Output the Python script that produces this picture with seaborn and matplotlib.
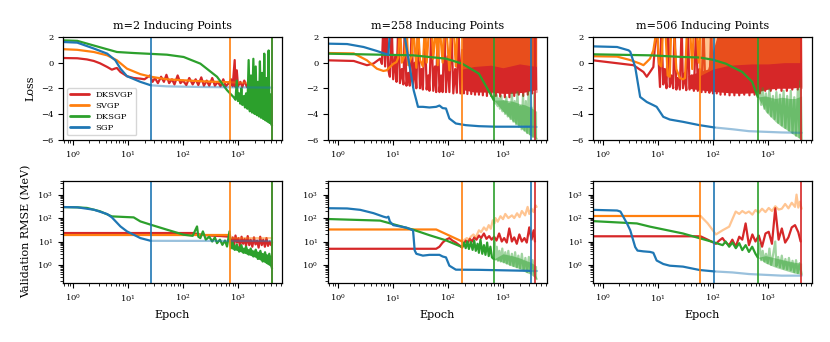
import numpy as np
import pandas as pd
import matplotlib
matplotlib.use("Agg")
import matplotlib.pyplot as plt
import seaborn as sns
from matplotlib.lines import Line2D

# ---------------- labels ----------------
methods = ["DKSVGP", "SVGP", "DKSGP", "SGP"]
colors = ["#d62728", "#ff7f0e", "#2ca02c", "#1f77b4"]
titles = ["m=2 Inducing Points", "m=258 Inducing Points", "m=506 Inducing Points"]

# best epochs (vertical lines) per panel: DKSVGP, SVGP, DKSGP, SGP
best_m2 = [4150, 705, 4150, 26]
best_m258 = [3810, 181, 680, 3190]
best_m506 = [3917, 59.2, 652, 106]

# ================= m=2 : Loss =================
m2_loss_dksvgp_ep = [0.66, 1.2, 1.8, 2.4, 3.1, 4.2, 5.1, 5.9, 6.3, 7.3, 9.6, 12.7, 16.8, 20, 25, 28, 31, 35, 40, 45, 50, 56, 63, 70, 80, 90, 100, 115, 130, 150, 170, 190, 215, 240, 270, 300, 340, 380, 430, 480, 540, 600, 680, 750, 800, 870, 900, 950, 1000, 1100, 1200, 1300, 1450, 1600]
m2_loss_dksvgp = [0.36, 0.34, 0.25, 0.13, -0.05, -0.34, -0.55, -0.45, -0.42, -0.73, -1.06, -1.2, -1.25, -1.3, -1.0, -1.5, -1.2, -1.6, -1.1, -1.5, -0.95, -1.6, -1.3, -1.7, -1.0, -1.6, -1.4, -1.75, -1.2, -1.7, -1.3, -1.75, -1.15, -1.8, -1.4, -1.8, -1.2, -1.8, -1.5, -1.85, -1.3, -1.85, -1.6, -1.3, -1.85, 0.2, -1.9, -0.6, -1.85, -1.5, -1.9, -1.4, -1.9, -1.6]
m2_loss_svgp_ep = [0.66, 1.2, 2.4, 4.2, 6.3, 9.6, 16.8, 26, 51, 103, 207, 415, 705, 1000, 1600]
m2_loss_svgp = [1.05, 1.0, 0.83, 0.57, 0.18, -0.47, -0.9, -1.1, -1.3, -1.38, -1.45, -1.5, -1.53, -1.56, -1.58]
m2_loss_dksgp_ep = [0.66, 1.2, 3.1, 6.3, 12.7, 51, 103, 207, 415, 631, 834, 900, 950, 1000, 1050, 1100, 1150, 1200, 1270, 1340, 1400, 1480, 1560, 1640, 1720, 1800, 1900, 2000, 2100, 2200, 2300, 2400, 2500, 2620, 2750, 2880, 3000, 3150, 3300, 3450, 3600, 3750, 3900, 4050, 4150]
m2_loss_dksgp = [1.74, 1.7, 1.2, 0.83, 0.75, 0.62, 0.44, -0.08, -1.1, -2.15, -2.7, -2.9, -1.4, -3.0, -2.4, -3.2, -2.0, -3.3, -2.9, -3.5, -2.4, -3.6, 0.2, -3.8, -1.0, -3.9, 0.3, -4.0, -0.3, -4.1, -1.5, -4.2, 0.1, -4.3, -0.8, -4.4, 0.7, -4.5, -1.2, -4.6, 0.95, -4.7, -2.5, -4.85, -4.9]
m2_loss_dksgp_band_ep = [1000, 1500, 2000, 2600, 3300, 4150]
m2_loss_dksgp_band_lo = [-3.0, -3.6, -4.0, -4.3, -4.6, -4.9]
m2_loss_dksgp_band_hi = [-2.6, -2.4, -2.2, -2.0, -2.0, -2.6]
m2_loss_sgp_ep = [0.66, 1.2, 2.4, 4.2, 5.9, 7.3, 9.6, 16.8, 26, 51, 207, 1000, 4150]
m2_loss_sgp = [1.61, 1.56, 1.1, 0.7, 0.18, -0.47, -1.06, -1.5, -1.77, -1.85, -1.9, -1.93, -1.95]

# ================= m=2 : RMSE =================
m2_rmse_dksvgp_ep = [0.66, 150, 200, 300, 500, 700, 750, 800, 850, 900, 960, 1020, 1090, 1160, 1240, 1320, 1400, 1500, 1600, 1700, 1820, 1950, 2080, 2220, 2370, 2530, 2700, 2880, 3080, 3290, 3510, 3750, 4000, 4150]
m2_rmse_dksvgp = [23, 23, 20, 18, 17, 16, 8, 15, 7, 18, 9, 14, 6, 16, 8, 13, 6.5, 17, 7, 12, 6, 15, 7.5, 11, 5.5, 16, 7, 12, 6, 14, 6.5, 10, 7, 9]
m2_rmse_svgp_ep = [0.66, 705, 760, 4150]
m2_rmse_svgp = [19.5, 19.5, 14, 14]
m2_rmse_dksgp_ep = [0.66, 1.2, 1.8, 3.1, 5.1, 9.6, 12.7, 16.8, 26, 51, 103, 150, 180, 190, 207, 230, 260, 300, 340, 380, 415, 470, 520, 580, 631, 700, 740, 800, 870, 950, 1050, 1150, 1250, 1400, 1550, 1700, 1900, 2100, 2300, 2550, 2800, 3100, 3400, 3700, 4000, 4150]
m2_rmse_dksgp = [295, 287, 270, 195, 118, 110, 107, 72, 52, 32, 19.5, 17.5, 44, 16, 14, 27, 12, 16, 10, 15, 8.5, 12, 7.2, 11, 6.1, 27, 5.2, 9, 4.4, 7.5, 3.7, 7, 3.3, 6, 2.8, 5, 2.3, 4.5, 1.8, 4, 1.4, 3.5, 1.2, 3, 1.0, 0.7]
m2_rmse_dksgp_band_ep = [740, 1000, 1500, 2000, 3000, 4150]
m2_rmse_dksgp_band_lo = [5, 4, 2.8, 2.2, 1.3, 0.8]
m2_rmse_dksgp_band_hi = [8, 6.5, 5, 4.2, 3.2, 2.5]
m2_rmse_sgp_ep = [0.66, 1.2, 2.4, 4.2, 5.1, 7.3, 9.6, 12.7, 16.8, 26, 4150]
m2_rmse_sgp = [295, 287, 227, 148, 107, 44, 27, 19.5, 14, 10.7, 10.5]

# ================= m=258 : Loss =================
m258_loss_dksvgp_ep = [0.66, 1.94, 3.37, 4.43, 5.84, 6.3, 6.7, 7.2, 7.7, 8.25, 8.8, 9.5, 10.1, 11, 11.6, 12.5, 13.4, 14.5, 15.5, 16.4, 17.6, 19, 20.2, 22, 23.2, 25, 26.6, 28.5, 31, 33, 35, 38, 41, 44, 46, 50, 54, 58, 61, 65, 70, 75, 80, 86, 92, 99, 106, 115, 125, 135, 145, 155, 168, 181, 195, 210, 225, 245, 265, 285, 310, 335, 365, 395, 430, 470, 510, 560, 610, 680, 740, 810, 890, 980, 1080, 1190, 1310, 1450, 1600, 1750, 1930, 2120, 2330, 2560, 2820, 3100, 3400, 3810, 4080]
m258_loss_dksvgp = [0.18, 0.13, -0.2, -0.07, 0.31, -0.1, 3, -0.3, 3, -0.6, -1.1, 3, -1.3, 0.5, -1.5, 3, -1.6, -0.5, -1.7, 3, -1.8, -0.8, -1.8, 3, -1.9, 0.0, -2.0, 3, -2.0, -0.5, -2.1, 3, -2.1, -1.0, -2.2, 3, -2.2, -0.3, -2.3, 3, -2.3, -1.0, -2.3, 3, -2.3, 0.5, -2.3, 3, -2.4, -0.5, -2.35, 3, -2.4, 1.0, -2.4, 3, -2.45, 3, -2.45, 0.5, -2.5, 3, -2.5, 3, -2.55, 1.5, -2.6, 3, -2.6, 3, -2.6, 3, -2.65, 3, -2.7, 3, -2.7, 3, -2.6, 3, -2.5, 3, -2.6, 3, -2.5, 3, -2.4, 3, -2.3]
m258_loss_dksvgp_band_ep = [181, 300, 600, 1000, 1500, 2500, 4080]
m258_loss_dksvgp_band_lo = [-2.1, -2.3, -2.3, -2.4, -2.4, -2.3, -2.1]
m258_loss_dksvgp_band_hi = [3, 3, 3, 3, 3, 3, 3]
m258_loss_svgp_ep = [0.66, 1.94, 3.37, 5.09, 6.7, 7.7, 8.8, 10.1, 11.6, 12.5, 13.4, 14.5, 16.4, 17.6, 19, 22, 23.2, 26.6, 28.5, 31, 35, 38, 41, 46, 50, 54, 61, 65, 70, 80, 86, 92, 106, 115, 125, 139, 150, 165, 181]
m258_loss_svgp = [0.75, 0.72, 0.18, -0.47, -0.65, -0.6, -0.35, -0.1, 0.05, 0.4, 3, 0.0, 0.6, 3, -0.2, 0.5, 3, -0.4, 3, 0.2, -0.3, 3, 0.0, 3, 3, 0.3, 3, -0.2, 3, 0.0, 3, 3, -0.6, 3, 3, -0.3, 3, 3, 3]
m258_loss_svgp_band_ep = [181, 300, 600, 1000, 2000, 4080]
m258_loss_svgp_band_lo = [-0.5, -0.3, -0.2, -0.4, -0.1, -0.3]
m258_loss_svgp_band_hi = [3, 3, 3, 3, 3, 3]
m258_loss_dksgp_ep = [0.66, 5.84, 23.2, 46, 92, 181, 365, 600, 680, 700, 730, 760, 800, 840, 880, 930, 980, 1030, 1090, 1150, 1220, 1290, 1370, 1450, 1540, 1630, 1730, 1830, 1940, 2060, 2180, 2310, 2450, 2600, 2750, 2920, 3100, 3280, 3480, 3700, 3900, 4080]
m258_loss_dksgp = [0.7, 0.62, 0.57, 0.44, 0.31, -0.08, -0.86, -2.5, -2.93, -2.6, -3.2, -2.5, -3.4, -2.8, -3.6, -2.6, -3.8, -3.0, -4.0, -2.7, -4.2, -3.2, -4.4, -2.4, -4.6, -3.0, -4.8, -2.3, -5.0, -3.4, -5.2, -2.5, -5.3, -3.0, -5.5, -2.3, -5.6, -3.5, -5.8, -2.4, -5.9, -5.95]
m258_loss_dksgp_band_ep = [680, 1000, 1450, 2000, 2520, 3190, 4080]
m258_loss_dksgp_band_lo = [-2.93, -3.8, -4.5, -5.0, -5.4, -5.7, -5.95]
m258_loss_dksgp_band_hi = [-2.93, -2.9, -3.0, -3.2, -3.3, -3.5, -3.8]
m258_loss_sgp_ep = [0.66, 1.47, 2.93, 5.09, 7.7, 8.25, 9.0, 15, 16.4, 20.2, 23.8, 26.6, 28.5, 35, 46, 61, 70, 80, 92, 106, 139, 210, 365, 728, 1452, 3190, 4080]
m258_loss_sgp = [1.48, 1.45, 1.22, 0.91, 0.65, 0.6, 3, 3, 2.0, -0.34, -2.16, -2.94, -3.45, -3.45, -3.5, -3.45, -3.35, -3.55, -3.58, -4.36, -4.75, -4.88, -4.96, -5.0, -5.0, -5.0, -5.02]

# ================= m=258 : RMSE =================
m258_rmse_dksvgp_ep = [0.66, 61, 70, 80, 92, 106, 120, 139, 160, 181, 195, 210, 230, 250, 275, 300, 330, 365, 400, 450, 500, 560, 620, 690, 760, 850, 950, 1050, 1170, 1300, 1450, 1600, 1780, 1980, 2200, 2450, 2700, 3000, 3300, 3600, 3810]
m258_rmse_dksvgp = [4.9, 4.9, 6, 9, 12, 14, 11, 9, 7, 5.5, 8, 11, 9, 13, 10, 15, 12, 18, 14, 22, 13, 17, 12, 16, 11, 22, 10, 14, 9, 36, 10, 15, 8, 20, 10, 14, 9, 40, 12, 30, 10]
m258_rmse_svgp_ep = [0.66, 61, 181, 200, 220, 240, 260, 290, 320, 365, 400, 450, 500, 550, 600, 650, 700, 728, 800, 900, 1000, 1100, 1250, 1452, 1600, 1800, 2000, 2200, 2520, 2800, 3000, 3300, 3600, 3900, 4080]
m258_rmse_svgp = [32.6, 32.6, 10, 12, 14, 12, 16, 20, 15, 30, 25, 40, 30, 50, 35, 80, 60, 100, 70, 120, 90, 150, 100, 130, 100, 160, 110, 200, 130, 300, 150, 250, 180, 350, 300]
m258_rmse_dksgp_ep = [0.66, 5.84, 23.2, 46, 92, 181, 195, 210, 225, 240, 260, 280, 300, 320, 345, 365, 390, 420, 450, 480, 515, 550, 590, 630, 680, 700, 730, 770, 810, 860, 910, 970, 1030, 1100, 1170, 1250, 1340, 1450, 1550, 1660, 1780, 1900, 2040, 2200, 2370, 2550, 2750, 2950, 3190, 3450, 3750, 4080]
m258_rmse_dksgp = [91, 78, 32, 18.6, 11.2, 5.8, 9, 5.2, 10, 4.8, 9.5, 4.4, 11, 4.0, 8, 3.3, 12, 3.0, 7, 2.7, 9, 2.4, 6, 2.1, 1.8, 10, 1.7, 6, 1.5, 4, 1.4, 5, 1.3, 3.5, 1.15, 4, 1.0, 3, 0.9, 3.5, 0.8, 2.5, 0.7, 3, 0.6, 2, 0.5, 2.2, 0.45, 1.6, 0.35, 0.25]
m258_rmse_dksgp_band_ep = [680, 1000, 1450, 2000, 2520, 3190, 4080]
m258_rmse_dksgp_band_lo = [1.8, 1.3, 0.9, 0.7, 0.5, 0.4, 0.25]
m258_rmse_dksgp_band_hi = [1.8, 3.0, 2.5, 2.0, 1.6, 1.3, 0.9]
m258_rmse_sgp_ep = [0.66, 1.47, 2.55, 4.43, 6.7, 7.7, 8.25, 8.8, 10.1, 17.6, 23.2, 24.8, 26.6, 35, 46, 70, 80, 92, 106, 139, 365, 3190, 4080]
m258_rmse_sgp = [263, 257, 224, 162, 115, 105, 115, 71, 50, 39, 30, 4.2, 3.0, 2.5, 2.7, 2.7, 2.3, 2.1, 0.93, 0.63, 0.62, 0.56, 0.56]

# ================= m=506 : Loss =================
m506_loss_dksvgp_ep = [0.66, 3.6, 5.45, 6.26, 7.18, 8.25, 9.47, 10.9, 11.5, 12.5, 13.3, 14.3, 15.3, 16.4, 17.5, 18.9, 20, 21.6, 23, 25, 27, 28.5, 31, 32.7, 35, 37.6, 41, 45, 49.5, 53, 57, 62, 67, 73, 80, 86, 93, 100, 108, 117, 127, 137, 150, 165, 180, 200, 220, 245, 270, 300, 335, 370, 410, 460, 510, 570, 640, 710, 800, 890, 1000, 1120, 1250, 1400, 1570, 1760, 1970, 2200, 2470, 2760, 3100, 3470, 3917, 4080]
m506_loss_dksvgp = [0.18, -0.2, -0.73, -1.1, -0.73, -0.34, 3, -1.9, 3, -1.7, -0.5, -2.0, 3, -1.9, -1.0, -2.0, 3, -2.1, -1.2, -2.1, 3, -2.0, -0.8, -2.15, 3, -2.1, -1.0, -2.2, 3, -2.2, -0.5, -2.3, 3, -2.3, -1.0, -2.35, 3, -2.4, 0.0, -2.4, 3, -2.5, 3, -2.5, 3, -2.55, 3, -2.55, 3, -2.55, 3, -2.5, 3, -2.55, 3, -2.5, 3, -2.4, 3, -2.2, 3, -2.2, 3, -2.1, 3, -2.2, 3, -2.2, 3, -2.1, 3, -2.1, 3, -2.0]
m506_loss_dksvgp_band_ep = [35, 80, 137, 300, 600, 900, 1500, 2500, 4080]
m506_loss_dksvgp_band_lo = [-2.0, -2.2, -2.3, -2.4, -2.35, -2.1, -2.0, -2.0, -1.9]
m506_loss_dksvgp_band_hi = [-1.0, -0.5, 3, 3, 3, 3, 3, 3, 3]
m506_loss_svgp_ep = [0.66, 1.81, 3.14, 4.75, 5.45, 6.26, 7.18, 8.25, 9.0, 9.5, 10.5, 11.5, 12.5, 13.5, 15, 16.4, 17.5, 19, 21.6, 25, 28.5, 31, 34, 38, 42, 45, 50, 55, 59.2]
m506_loss_svgp = [0.5, 0.47, 0.2, -0.08, -0.2, 0.05, 0.31, 0.96, 2.0, 3, -0.1, -0.3, 3, 3, -1.0, -1.1, 3, 3, -0.5, -1.2, -1.3, -1.2, 3, 3, -0.5, 3, 3, 0.0, 3]
m506_loss_svgp_band_ep = [59.2, 100, 200, 500, 1000, 2000, 4080]
m506_loss_svgp_band_lo = [-1.0, -0.5, -0.2, -0.1, -0.1, 0.0, 0.0]
m506_loss_svgp_band_hi = [3, 3, 3, 3, 3, 3, 3]
m506_loss_dksgp_ep = [0.66, 7.18, 28.5, 56.8, 98.6, 171, 341, 516, 652, 700, 750, 800, 860, 920, 990, 1060, 1140, 1230, 1320, 1420, 1530, 1650, 1780, 1920, 2070, 2230, 2400, 2590, 2790, 3000, 3230, 3480, 3750, 3917, 4080]
m506_loss_dksgp = [0.65, 0.57, 0.44, 0.4, 0.23, -0.08, -0.73, -1.5, -2.68, -2.2, -3.3, -2.0, -3.6, -2.4, -3.9, -2.1, -4.2, -2.6, -4.4, -2.3, -4.7, -2.5, -4.9, -2.2, -5.1, -2.6, -5.3, -2.2, -5.5, -2.7, -5.7, -2.1, -5.85, -1.4, -6.0]
m506_loss_dksgp_band_ep = [652, 896, 1355, 1783, 2500, 3097, 4080]
m506_loss_dksgp_band_lo = [-2.68, -3.8, -4.6, -5.0, -5.4, -5.7, -6.0]
m506_loss_dksgp_band_hi = [-2.68, -2.6, -2.8, -2.7, -2.8, -2.8, -2.6]
m506_loss_sgp_ep = [0.66, 1.81, 2.93, 3.14, 3.86, 4.75, 6.26, 8.25, 9.47, 12.5, 16.4, 28.5, 56.8, 106, 226, 450, 1783, 4080]
m506_loss_sgp = [1.27, 1.22, 0.96, 0.85, -0.34, -2.68, -3.07, -3.32, -3.45, -4.23, -4.44, -4.62, -4.88, -5.06, -5.2, -5.35, -5.45, -5.48]

# ================= m=506 : RMSE =================
m506_rmse_dksvgp_ep = [0.66, 59.2, 80, 113, 130, 149, 170, 197, 225, 259, 300, 341, 392, 450, 520, 592, 680, 780, 900, 1030, 1180, 1355, 1560, 1783, 2050, 2350, 2700, 3097, 3550, 3917]
m506_rmse_dksvgp = [16.7, 16.7, 12, 8, 11, 14, 9, 7, 12, 6, 16, 12, 59, 7, 20, 10, 18, 6, 22, 26, 8, 265, 12, 36, 9, 15, 40, 50, 25, 10]
m506_rmse_svgp_ep = [0.66, 59.2, 80, 113, 149, 197, 230, 259, 300, 341, 392, 450, 520, 592, 680, 780, 900, 1030, 1180, 1355, 1560, 1783, 2050, 2350, 2700, 3097, 3300, 3550, 3800, 4080]
m506_rmse_svgp = [124, 124, 60, 20, 30, 43, 100, 190, 150, 200, 160, 190, 140, 220, 170, 250, 180, 270, 200, 320, 230, 250, 400, 260, 450, 300, 1000, 280, 500, 250]
m506_rmse_dksgp_ep = [0.66, 4.14, 7.18, 28.5, 98.6, 150, 170, 197, 226, 260, 300, 341, 392, 450, 516, 592, 652, 700, 750, 800, 860, 920, 990, 1060, 1140, 1230, 1355, 1420, 1530, 1650, 1780, 1920, 2070, 2230, 2400, 2590, 2790, 3000, 3230, 3480, 3750, 4080]
m506_rmse_dksgp = [74, 59, 43, 22, 9.6, 7, 10, 6, 9, 5.2, 8.5, 4.3, 7, 3.6, 6, 3, 2.1, 8, 1.6, 4, 1.4, 3, 1.2, 5, 1.0, 2.5, 10, 0.9, 2.2, 0.8, 2.5, 0.7, 1.8, 0.65, 2, 0.6, 1.5, 0.5, 1.6, 0.45, 1.2, 0.4]
m506_rmse_dksgp_band_ep = [652, 900, 1355, 2000, 3000, 4080]
m506_rmse_dksgp_band_lo = [2.1, 1.2, 0.8, 0.6, 0.45, 0.4]
m506_rmse_dksgp_band_hi = [2.1, 2.5, 2.0, 1.6, 1.3, 1.2]
m506_rmse_sgp_ep = [0.66, 1.81, 2.08, 2.74, 3.14, 3.86, 4.25, 5.45, 7.18, 8.25, 9.47, 12.5, 16.4, 28.5, 56.8, 106, 226, 450, 1783, 4080]
m506_rmse_sgp = [224, 210, 190, 59, 30, 5.8, 4.1, 3.8, 3.6, 3.3, 1.55, 1.1, 0.93, 0.85, 0.61, 0.53, 0.48, 0.41, 0.35, 0.35]

# ---------------- assemble ----------------
panels = [
    dict(best=best_m2,
         loss=[(m2_loss_dksvgp_ep, m2_loss_dksvgp, None),
               (m2_loss_svgp_ep, m2_loss_svgp, None),
               (m2_loss_dksgp_ep, m2_loss_dksgp, (m2_loss_dksgp_band_ep, m2_loss_dksgp_band_lo, m2_loss_dksgp_band_hi)),
               (m2_loss_sgp_ep, m2_loss_sgp, None)],
         rmse=[(m2_rmse_dksvgp_ep, m2_rmse_dksvgp, None),
               (m2_rmse_svgp_ep, m2_rmse_svgp, None),
               (m2_rmse_dksgp_ep, m2_rmse_dksgp, (m2_rmse_dksgp_band_ep, m2_rmse_dksgp_band_lo, m2_rmse_dksgp_band_hi)),
               (m2_rmse_sgp_ep, m2_rmse_sgp, None)]),
    dict(best=best_m258,
         loss=[(m258_loss_dksvgp_ep, m258_loss_dksvgp, (m258_loss_dksvgp_band_ep, m258_loss_dksvgp_band_lo, m258_loss_dksvgp_band_hi)),
               (m258_loss_svgp_ep, m258_loss_svgp, (m258_loss_svgp_band_ep, m258_loss_svgp_band_lo, m258_loss_svgp_band_hi)),
               (m258_loss_dksgp_ep, m258_loss_dksgp, (m258_loss_dksgp_band_ep, m258_loss_dksgp_band_lo, m258_loss_dksgp_band_hi)),
               (m258_loss_sgp_ep, m258_loss_sgp, None)],
         rmse=[(m258_rmse_dksvgp_ep, m258_rmse_dksvgp, None),
               (m258_rmse_svgp_ep, m258_rmse_svgp, None),
               (m258_rmse_dksgp_ep, m258_rmse_dksgp, (m258_rmse_dksgp_band_ep, m258_rmse_dksgp_band_lo, m258_rmse_dksgp_band_hi)),
               (m258_rmse_sgp_ep, m258_rmse_sgp, None)]),
    dict(best=best_m506,
         loss=[(m506_loss_dksvgp_ep, m506_loss_dksvgp, (m506_loss_dksvgp_band_ep, m506_loss_dksvgp_band_lo, m506_loss_dksvgp_band_hi)),
               (m506_loss_svgp_ep, m506_loss_svgp, (m506_loss_svgp_band_ep, m506_loss_svgp_band_lo, m506_loss_svgp_band_hi)),
               (m506_loss_dksgp_ep, m506_loss_dksgp, (m506_loss_dksgp_band_ep, m506_loss_dksgp_band_lo, m506_loss_dksgp_band_hi)),
               (m506_loss_sgp_ep, m506_loss_sgp, None)],
         rmse=[(m506_rmse_dksvgp_ep, m506_rmse_dksvgp, None),
               (m506_rmse_svgp_ep, m506_rmse_svgp, None),
               (m506_rmse_dksgp_ep, m506_rmse_dksgp, (m506_rmse_dksgp_band_ep, m506_rmse_dksgp_band_lo, m506_rmse_dksgp_band_hi)),
               (m506_rmse_sgp_ep, m506_rmse_sgp, None)]),
]

# ---------------- style ----------------
sns.set_theme(style="ticks")
plt.rcParams.update({
    "font.family": ["DejaVu Serif"],
    "mathtext.fontset": "dejavuserif",
    "axes.edgecolor": "black",
    "axes.linewidth": 0.9,
    "axes.facecolor": "white",
    "xtick.color": "black", "ytick.color": "black",
    "xtick.labelsize": 6, "ytick.labelsize": 6,
    "axes.labelsize": 8, "axes.titlesize": 8,
    "xtick.major.size": 3.5, "ytick.major.size": 3.5,
    "xtick.minor.size": 2.0, "ytick.minor.size": 2.0,
    "xtick.major.width": 0.8, "ytick.major.width": 0.8,
    "xtick.minor.width": 0.6, "ytick.minor.width": 0.6,
    "axes.labelcolor": "black", "text.color": "black",
})

LW = 1.6
LIGHT = 0.45


def draw(ax, ep, val, best, color, band):
    df = pd.DataFrame({"epoch": np.asarray(ep, float), "value": np.asarray(val, float)})
    pre = df[df.epoch <= best]
    post = df[df.epoch >= best]
    if len(pre) > 1:
        sns.lineplot(data=pre, x="epoch", y="value", ax=ax, color=color, lw=LW,
                     estimator=None, sort=False)
    if len(post) > 1:
        sns.lineplot(data=post, x="epoch", y="value", ax=ax, color=color, lw=LW,
                     alpha=LIGHT, estimator=None, sort=False)
    if band is not None:
        bep, blo, bhi = band
        a = 1.0 if bep[0] < best else LIGHT
        ax.fill_between(np.asarray(bep, float), np.asarray(blo, float),
                        np.asarray(bhi, float), facecolor=color, alpha=a,
                        linewidth=0, zorder=2)
    ax.axvline(best, color=color, lw=1.2, zorder=2.1)


fig, axes = plt.subplots(2, 3, figsize=(8.3, 3.42), dpi=100)
fig.subplots_adjust(left=0.0759, right=0.9783, top=0.8918, bottom=0.1725,
                    wspace=0.21, hspace=0.40)

for j, p in enumerate(panels):
    ax_t, ax_b = axes[0, j], axes[1, j]
    for k in range(4):
        ep, val, band = p["loss"][k]
        draw(ax_t, ep, val, p["best"][k], colors[k], band)
        ep, val, band = p["rmse"][k]
        draw(ax_b, ep, val, p["best"][k], colors[k], band)
    for ax in (ax_t, ax_b):
        ax.set_xscale("log")
        ax.set_xlim(0.66, 6300)
        for s in ax.spines.values():
            s.set_visible(True)
            s.set_color("black")
    ax_t.set_ylim(-6, 2)
    ax_t.set_yticks([-6, -4, -2, 0, 2])
    ax_b.set_yscale("log")
    ax_b.set_ylim(0.17, 4000)
    ax_t.set_title(titles[j])
    ax_t.set_xlabel("")
    ax_b.set_xlabel("Epoch")
    ax_t.set_ylabel("Loss" if j == 0 else "")
    ax_b.set_ylabel("Validation RMSE (MeV)" if j == 0 else "")

handles = [Line2D([0], [0], color=c, lw=2) for c in colors]
axes[0, 0].legend(handles, methods, loc="lower left", fontsize=6, frameon=True,
                  handlelength=2.2, borderpad=0.4, labelspacing=0.35)

fig.savefig("out.png", dpi=100)
